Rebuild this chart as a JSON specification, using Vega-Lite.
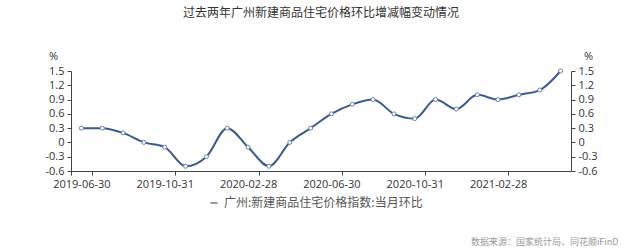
{
  "$schema": "https://vega.github.io/schema/vega-lite/v6.json",
  "autosize": "none",
  "width": 500,
  "height": 100,
  "padding": {"left": 71, "top": 71, "right": 69, "bottom": 78},
  "background": "white",
  "title": {
    "text": "过去两年广州新建商品住宅价格环比增减幅变动情况",
    "font": "Noto Sans CJK SC",
    "fontSize": 12,
    "fontWeight": "normal",
    "color": "#333333",
    "anchor": "middle",
    "offset": 30
  },
  "config": {
    "view": {"stroke": null},
    "font": "Noto Sans CJK SC",
    "axis": {
      "labelFont": "Open Sans",
      "labelFontSize": 11,
      "labelColor": "#333333",
      "domainColor": "#444444",
      "tickColor": "#444444",
      "tickSize": 4,
      "grid": false
    }
  },
  "data": {
    "values": [
      {"date": "2019-06-30", "value": 0.3, "series": "广州:新建商品住宅价格指数:当月环比"},
      {"date": "2019-07-31", "value": 0.3, "series": "广州:新建商品住宅价格指数:当月环比"},
      {"date": "2019-08-31", "value": 0.2, "series": "广州:新建商品住宅价格指数:当月环比"},
      {"date": "2019-09-30", "value": 0.0, "series": "广州:新建商品住宅价格指数:当月环比"},
      {"date": "2019-10-31", "value": -0.1, "series": "广州:新建商品住宅价格指数:当月环比"},
      {"date": "2019-11-30", "value": -0.5, "series": "广州:新建商品住宅价格指数:当月环比"},
      {"date": "2019-12-31", "value": -0.3, "series": "广州:新建商品住宅价格指数:当月环比"},
      {"date": "2020-01-31", "value": 0.3, "series": "广州:新建商品住宅价格指数:当月环比"},
      {"date": "2020-02-28", "value": -0.1, "series": "广州:新建商品住宅价格指数:当月环比"},
      {"date": "2020-03-31", "value": -0.5, "series": "广州:新建商品住宅价格指数:当月环比"},
      {"date": "2020-04-30", "value": 0.0, "series": "广州:新建商品住宅价格指数:当月环比"},
      {"date": "2020-05-31", "value": 0.3, "series": "广州:新建商品住宅价格指数:当月环比"},
      {"date": "2020-06-30", "value": 0.6, "series": "广州:新建商品住宅价格指数:当月环比"},
      {"date": "2020-07-31", "value": 0.8, "series": "广州:新建商品住宅价格指数:当月环比"},
      {"date": "2020-08-31", "value": 0.9, "series": "广州:新建商品住宅价格指数:当月环比"},
      {"date": "2020-09-30", "value": 0.6, "series": "广州:新建商品住宅价格指数:当月环比"},
      {"date": "2020-10-31", "value": 0.5, "series": "广州:新建商品住宅价格指数:当月环比"},
      {"date": "2020-11-30", "value": 0.9, "series": "广州:新建商品住宅价格指数:当月环比"},
      {"date": "2020-12-31", "value": 0.7, "series": "广州:新建商品住宅价格指数:当月环比"},
      {"date": "2021-01-31", "value": 1.0, "series": "广州:新建商品住宅价格指数:当月环比"},
      {"date": "2021-02-28", "value": 0.9, "series": "广州:新建商品住宅价格指数:当月环比"},
      {"date": "2021-03-31", "value": 1.0, "series": "广州:新建商品住宅价格指数:当月环比"},
      {"date": "2021-04-30", "value": 1.1, "series": "广州:新建商品住宅价格指数:当月环比"},
      {"date": "2021-05-31", "value": 1.5, "series": "广州:新建商品住宅价格指数:当月环比"}
    ]
  },
  "encoding": {
    "x": {
      "field": "date",
      "type": "ordinal",
      "scale": {"type": "band", "paddingInner": 0, "paddingOuter": 0},
      "axis": {
        "values": ["2019-06-30", "2019-10-31", "2020-02-28", "2020-06-30", "2020-10-31", "2021-02-28"],
        "labelAngle": 0,
        "tickBand": "extent",
        "labelPadding": 3,
        "title": "数据来源：国家统计局、同花顺iFinD",
        "titleFont": "Noto Sans CJK SC",
        "titleFontSize": 9,
        "titleFontWeight": "normal",
        "titleColor": "#999999",
        "titleAnchor": "end",
        "titleAlign": "right",
        "titleX": 547,
        "titleY": 70,
        "titleBaseline": "middle"
      }
    }
  },
  "layer": [
    {
      "mark": {"type": "line", "interpolate": "monotone", "strokeWidth": 2},
      "encoding": {
        "y": {
          "field": "value",
          "type": "quantitative",
          "scale": {"domain": [-0.6, 1.5], "nice": false, "zero": false},
          "axis": {
            "orient": "left",
            "values": [-0.6, -0.3, 0, 0.3, 0.6, 0.9, 1.2, 1.5],
            "labelExpr": "replace(format(datum.value, '.1~f'), '−', '-')",
            "labelPadding": 3,
            "title": "%",
            "titleFont": "Open Sans",
            "titleFontSize": 11,
            "titleFontWeight": "normal",
            "titleColor": "#333333",
            "titleAngle": 0,
            "titleAlign": "center",
            "titleBaseline": "middle",
            "titleX": -18,
            "titleY": -15
          }
        },
        "color": {
          "field": "series",
          "type": "nominal",
          "scale": {"range": ["#3d5a8c"]},
          "legend": {
            "orient": "none",
            "legendX": 137,
            "legendY": 126,
            "title": null,
            "symbolType": "stroke",
            "symbolSize": 50,
            "symbolStrokeWidth": 1.5,
            "symbolOpacity": 0.8,
            "labelFont": "Noto Sans CJK SC",
            "labelFontSize": 12,
            "labelColor": "#555555",
            "labelLimit": 400
          }
        }
      }
    },
    {
      "mark": {"type": "point", "filled": true, "fill": "white", "stroke": "#6a82a8", "strokeWidth": 1, "size": 16, "opacity": 1},
      "encoding": {
        "y": {
          "field": "value",
          "type": "quantitative",
          "scale": {"domain": [-0.6, 1.5], "nice": false, "zero": false},
          "axis": {
            "orient": "right",
            "values": [-0.6, -0.3, 0, 0.3, 0.6, 0.9, 1.2, 1.5],
            "labelExpr": "replace(format(datum.value, '.1~f'), '−', '-')",
            "labelPadding": 3,
            "title": "%",
            "titleFont": "Open Sans",
            "titleFontSize": 11,
            "titleFontWeight": "normal",
            "titleColor": "#333333",
            "titleAngle": 0,
            "titleAlign": "center",
            "titleBaseline": "middle",
            "titleX": 17,
            "titleY": -15
          }
        }
      }
    }
  ],
  "resolve": {"axis": {"y": "independent"}}
}
